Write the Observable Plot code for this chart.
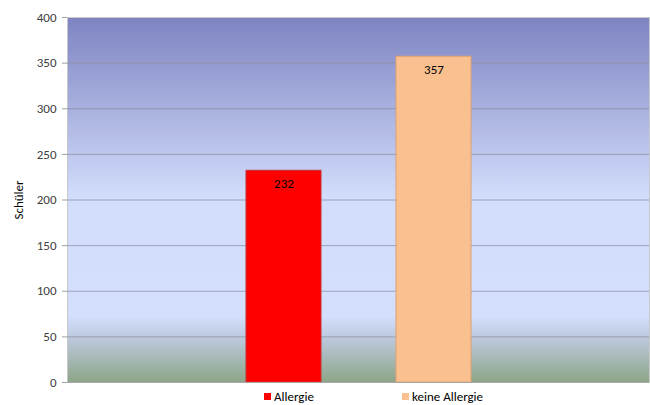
<!DOCTYPE html>
<html>
<head>
<meta charset="utf-8">
<script src="https://cdn.jsdelivr.net/npm/d3@7"></script>
<script src="https://cdn.jsdelivr.net/npm/@observablehq/plot@0.6"></script>
<style>
  html, body { margin: 0; padding: 0; background: #fff; overflow: hidden; }
  body { width: 650px; height: 405px; font-family: Carlito, Lato, "Liberation Sans", sans-serif; }
  #chart { height: 389px; }
  #legend { display: flex; height: 15px; align-items: center; padding-left: 264px; font-size: 13px; line-height: 14px; color: #000; }
  .item { display: flex; align-items: center; }
  .sw { width: 7px; height: 7px; margin-right: 3px; }
</style>
</head>
<body>
<div id="chart"></div>
<div id="legend"></div>
<script>
const categories = ["Allergie", "keine Allergie"];
const values = [232, 357];
const colors = ["#ff0000", "#fac090"];
const strokes = ["#c43030", "#e0a070"];
const yTicks = [0, 50, 100, 150, 200, 250, 300, 350, 400];
const yLabel = "Schüler";

const data = categories.map((c, i) => ({ category: c, value: values[i] }));

const chart = Plot.plot({
  width: 650,
  height: 389,
  marginLeft: 67,
  marginRight: 1,
  marginTop: 17,
  marginBottom: 7,
  style: { fontFamily: "Carlito, Lato, 'Liberation Sans', sans-serif", fontSize: "13px", color: "#404040", background: "transparent", overflow: "visible" },
  x: { domain: categories, paddingInner: 0.5, paddingOuter: 1.19, axis: null },
  y: { domain: [0, 400] },
  color: { domain: categories, range: colors },
  marks: [
    Plot.frame({ fill: "url(#bgGrad)", stroke: "#c8c8c8" }),
    Plot.ruleY(yTicks.filter(d => d > 0 && d < 400), { stroke: "#8a8a9a", strokeOpacity: 0.7 }),
    Plot.barY(data, { x: "category", y: "value", fill: "category", stroke: (d) => strokes[categories.indexOf(d.category)], strokeWidth: 1 }),
    Plot.text(data, { x: "category", y: "value", text: d => String(d.value), dy: 13, fontSize: 13, fill: "#000" }),
    Plot.axisY({ ticks: yTicks, tickSize: 5, tickPadding: 6, fontSize: 13, stroke: "#a0a0a0", label: yLabel, labelAnchor: "center", labelArrow: "none", labelOffset: 54 }),
    Plot.ruleY([0], { stroke: "#a8a8a8" }),
    Plot.ruleX([0], { frameAnchor: "left", stroke: "#a0a0a0" })
  ]
});

const svg = d3.select(chart);
const defs = svg.insert("defs", ":first-child");
const g = defs.append("linearGradient").attr("id", "bgGrad").attr("x1", 0).attr("y1", 0).attr("x2", 0).attr("y2", 1);
[
  [0, "#7e84c2"],
  [0.49, "#d2dcfb"],
  [0.82, "#d4defd"],
  [0.88, "#bcc8dc"],
  [1, "#8ca588"]
].forEach(([o, c]) => g.append("stop").attr("offset", o).attr("stop-color", c));
svg.selectAll("[aria-label='y-axis label'] text, [aria-label='y-axis label']").attr("fill", "#000");
document.getElementById("chart").appendChild(chart);

const legend = document.getElementById("legend");
categories.forEach((c, i) => {
  const item = document.createElement("div");
  item.className = "item";
  if (i === 0) item.style.width = "138px";
  const sw = document.createElement("span");
  sw.className = "sw";
  sw.style.background = colors[i];
  const t = document.createElement("span");
  t.textContent = c;
  item.appendChild(sw);
  item.appendChild(t);
  legend.appendChild(item);
});
</script>
</body>
</html>
